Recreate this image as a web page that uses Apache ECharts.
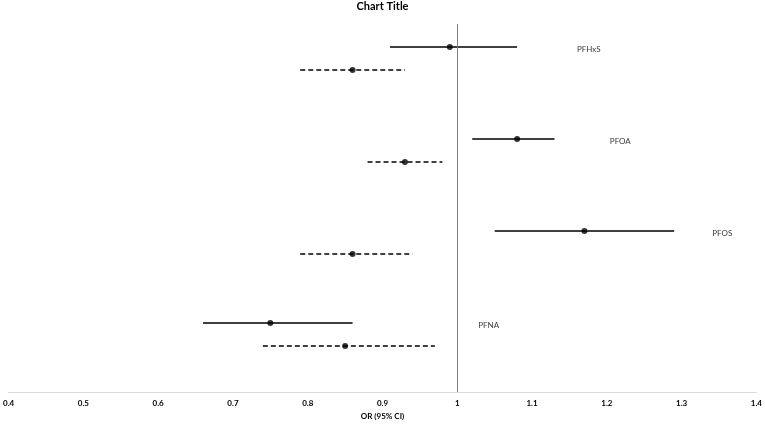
<!DOCTYPE html>
<html>
<head>
<meta charset="utf-8">
<script src="https://cdn.jsdelivr.net/npm/echarts@6/dist/echarts.min.js"></script>
<style>html,body{margin:0;padding:0;background:#fff}#c{width:765px;height:425px}</style>
</head>
<body>
<div id="c"></div>
<script>
// Data
var exposures = ['PFHxS', 'PFOA', 'PFOS', 'PFNA'];
var rowSolid = [15, 11, 7, 3];
var rowDashed = [14, 10, 6, 2];
var orSolid = [0.99, 1.08, 1.17, 0.75];
var lowSolid = [0.91, 1.02, 1.05, 0.66];
var highSolid = [1.08, 1.13, 1.29, 0.86];
var orDashed = [0.86, 0.93, 0.86, 0.85];
var lowDashed = [0.79, 0.88, 0.79, 0.74];
var highDashed = [0.93, 0.98, 0.94, 0.97];
var labelX = [1.16, 1.204, 1.341, 1.028];
var xTicks = [0.4, 0.5, 0.6, 0.7, 0.8, 0.9, 1, 1.1, 1.2, 1.3, 1.4];

var FONT = 'Lato, "Open Sans", sans-serif';

function bars(low, high, rows) {
  return rows.map(function (r, i) { return [low[i], high[i], r]; });
}
function pts(or, rows) {
  return rows.map(function (r, i) { return [or[i], r]; });
}
function ciSeries(data, dashed) {
  return {
    type: 'custom',
    data: data,
    encode: { x: [0, 1], y: 2 },
    silent: true,
    renderItem: function (params, api) {
      var a = api.coord([api.value(0), api.value(2)]);
      var b = api.coord([api.value(1), api.value(2)]);
      return {
        type: 'line',
        shape: { x1: a[0], y1: a[1], x2: b[0], y2: b[1] },
        style: { stroke: '#000', lineWidth: 1.6, lineDash: dashed ? [5, 3] : null }
      };
    },
    z: 2
  };
}

var chart = echarts.init(document.getElementById('c'), null, { renderer: 'canvas' });
chart.setOption({
  animation: false,
  title: {
    text: 'Chart Title', left: 'center', top: 1, padding: 0,
    textStyle: { fontFamily: FONT, fontSize: 11, fontWeight: 'bold', color: '#000' }
  },
  grid: { left: 7, right: 8, top: 24, bottom: 31 },
  xAxis: {
    type: 'value', min: 0.4, max: 1.4, interval: 0.1,
    name: 'OR (95% CI)', nameLocation: 'middle', nameGap: 20,
    nameTextStyle: { fontFamily: FONT, fontSize: 8, fontWeight: 'bold', color: '#000' },
    axisLine: { show: true, lineStyle: { color: '#d9d9d9', width: 1 } },
    axisTick: { show: false },
    splitLine: { show: false },
    axisLabel: {
      fontFamily: FONT, fontSize: 8, fontWeight: 'bold', color: '#000', margin: 7,
      formatter: function (v) {
        var r = Math.round(v * 10) / 10;
        return xTicks.indexOf(r) >= 0 ? String(r) : '';
      }
    }
  },
  yAxis: {
    type: 'value', min: 0, max: 16, show: false
  },
  series: [
    ciSeries(bars(lowSolid, highSolid, rowSolid), false),
    ciSeries(bars(lowDashed, highDashed, rowDashed), true),
    {
      type: 'scatter', data: pts(orSolid, rowSolid), symbol: 'circle', symbolSize: 6,
      itemStyle: { color: '#000' }, z: 3,
      markLine: {
        silent: true, symbol: 'none', label: { show: false },
        lineStyle: { color: '#7f7f7f', width: 1, type: 'solid' },
        data: [{ xAxis: 1 }]
      }
    },
    {
      type: 'scatter', data: pts(orDashed, rowDashed), symbol: 'circle', symbolSize: 6,
      itemStyle: { color: '#000' }, z: 3
    },
    {
      type: 'scatter', symbolSize: 0, silent: true,
      data: rowSolid.map(function (r, i) { return { value: [labelX[i], r], name: exposures[i] }; }),
      label: {
        show: true, position: 'right', distance: 0, offset: [0, 2],
        formatter: function (p) { return p.name; },
        fontFamily: FONT, fontSize: 8, color: '#000'
      }
    }
  ]
});
</script>
</body>
</html>
